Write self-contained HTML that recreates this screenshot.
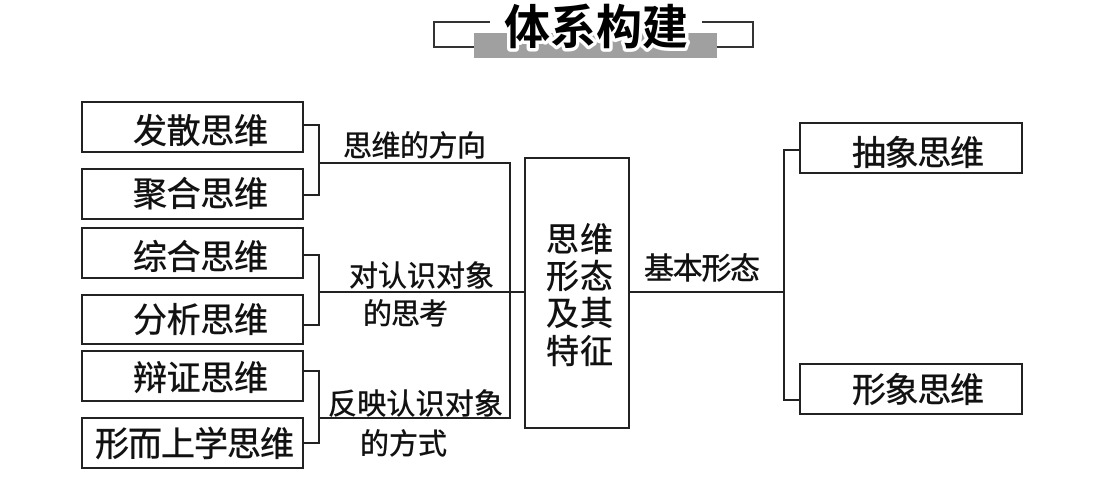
<!DOCTYPE html>
<html>
<head>
<meta charset="utf-8">
<style>
html,body{margin:0;padding:0;background:#fff;}
svg{display:block;}
text{font-family:"Liberation Sans","Noto Sans CJK SC",sans-serif;fill:#111;}
.t{stroke:#111;stroke-width:0.5;}
</style>
</head>
<body>
<svg width="1103" height="489" viewBox="0 0 1103 489" xmlns="http://www.w3.org/2000/svg">
  <!-- Title -->
  <rect x="474" y="33" width="243" height="25" fill="#a0a0a0"/>
  <polyline points="490,22 434,22 434,47 474,47" fill="none" stroke="#333" stroke-width="2"/>
  <polyline points="702,22 753,22 753,47 717,47" fill="none" stroke="#333" stroke-width="2"/>
  <text x="504" y="44" font-size="47" font-weight="bold" textLength="184" lengthAdjust="spacingAndGlyphs" stroke="#fff" stroke-width="7" stroke-linejoin="round" paint-order="stroke" style="fill:#000">体系构建</text>

  <g fill="none" stroke="#222" stroke-width="2">
    <!-- left boxes -->
    <rect x="82" y="102" width="221" height="50"/>
    <rect x="82" y="169" width="221" height="50"/>
    <rect x="82" y="228" width="221" height="50"/>
    <rect x="82" y="295" width="221" height="49"/>
    <rect x="82" y="351" width="221" height="50"/>
    <rect x="82" y="418" width="221" height="50"/>
    <!-- brackets -->
    <polyline points="303,125 319,125 319,195 303,195"/>
    <line x1="319" y1="163" x2="510" y2="163"/>
    <polyline points="303,255 319,255 319,325 303,325"/>
    <line x1="319" y1="292" x2="525" y2="292"/>
    <polyline points="303,371 319,371 319,443 303,443"/>
    <line x1="319" y1="418" x2="510" y2="418"/>
    <line x1="510" y1="162" x2="510" y2="419"/>
    <!-- center box -->
    <rect x="525" y="158" width="104" height="270"/>
    <!-- right connector -->
    <line x1="629" y1="292" x2="784" y2="292"/>
    <polyline points="800,150 784,150 784,400 800,400"/>
    <!-- right boxes -->
    <rect x="800" y="123" width="222" height="50"/>
    <rect x="800" y="364" width="222" height="50"/>
  </g>

  <!-- left box texts -->
  <text class="t" x="133" y="143" font-size="34" textLength="135">发散思维</text>
  <text class="t" x="133" y="206" font-size="34" textLength="135">聚合思维</text>
  <text class="t" x="133" y="269" font-size="34" textLength="135">综合思维</text>
  <text class="t" x="133" y="332" font-size="34" textLength="135">分析思维</text>
  <text class="t" x="133" y="390" font-size="34" textLength="135">辩证思维</text>
  <text class="t" x="95" y="456" font-size="34" textLength="199">形而上学思维</text>

  <!-- labels -->
  <text class="t" x="343" y="156" font-size="29" textLength="143">思维的方向</text>
  <text class="t" x="349" y="286" font-size="29" textLength="145">对认识对象</text>
  <text class="t" x="363" y="324" font-size="29" textLength="85">的思考</text>
  <text class="t" x="328" y="414" font-size="29" textLength="175">反映认识对象</text>
  <text class="t" x="360" y="454" font-size="29" textLength="87">的方式</text>
  <text class="t" x="644" y="279" font-size="30" textLength="116">基本形态</text>

  <!-- center text -->
  <text class="t" x="546" y="251" font-size="33" textLength="67">思维</text>
  <text class="t" x="546" y="288" font-size="33" textLength="67">形态</text>
  <text class="t" x="546" y="325" font-size="33" textLength="67">及其</text>
  <text class="t" x="546" y="363" font-size="33" textLength="67">特征</text>

  <!-- right box texts -->
  <text class="t" x="852" y="165" font-size="34" textLength="132">抽象思维</text>
  <text class="t" x="852" y="402" font-size="34" textLength="132">形象思维</text>
</svg>
</body>
</html>
